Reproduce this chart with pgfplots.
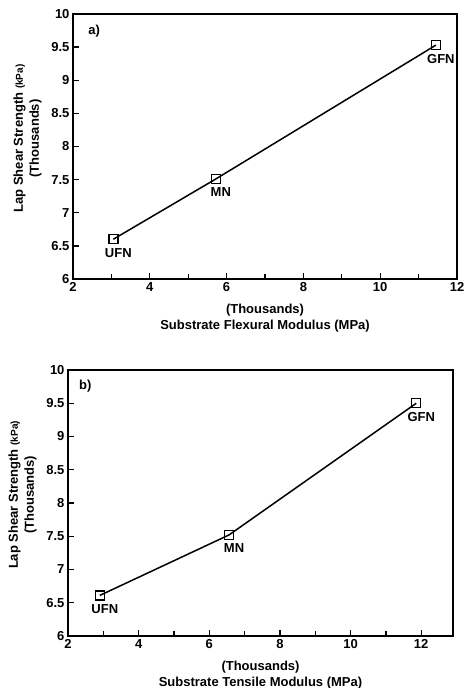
\documentclass[border=0pt]{standalone}
\usepackage{fontspec}
\setmainfont{Liberation Sans}
\usepackage{pgfplots}
\pgfplotsset{compat=1.18}

\pgfplotsset{
  lapstyle/.style={
    scale only axis,
    ymin=6, ymax=10,
    xtick={2,4,6,8,10,12},
    minor xtick={3,5,7,9,11,13},
    ytick={6,6.5,7,7.5,8,8.5,9,9.5,10},
    yticklabels={6,6.5,7,7.5,8,8.5,9,9.5,10},
    xtick pos=bottom,
    ytick pos=left,
    tick align=inside,
    major tick length=6pt,
    minor tick length=5pt,
    every tick/.style={line width=1.3pt, black},
    axis line style={line width=1.4pt},
    /pgf/number format/assume math mode=true,
    tick label style={font=\fontsize{13}{15}\selectfont\bfseries},
    label style={font=\fontsize{13}{16}\selectfont\bfseries, align=center},
    ylabel={Lap Shear Strength {\fontsize{10}{11}\selectfont(kPa)}\\(Thousands)},
    ylabel style={yshift=3pt, xshift=8pt},
    xlabel style={yshift=-5pt},
    point meta=explicit symbolic,
    nodes near coords,
    every node near coord/.append style={font=\fontsize{13}{15}\selectfont\bfseries, anchor=north, xshift=5pt, yshift=-5pt, black},
  }
}

\begin{document}
\begin{tikzpicture}[x=1pt,y=1pt]
\useasboundingbox (0,0) rectangle (466,688);

\begin{axis}[lapstyle,
  width=384pt, height=265pt,
  xmin=2, xmax=12,
  at={(73pt,409pt)}, anchor=south west,
  xlabel={(Thousands)\\Substrate Flexural Modulus (MPa)},
]
\addplot[black, line width=1.5pt, mark=square, mark size=4.5pt, mark options={line width=1.4pt, fill=white}]
  coordinates {(3.05,6.60)[UFN] (5.72,7.51)[MN] (11.45,9.53)[GFN]};
\node[font=\fontsize{13}{15}\selectfont\bfseries] at (rel axis cs:0.055,0.935) {a)};
\end{axis}

\begin{axis}[lapstyle,
  width=385pt, height=266pt,
  xmin=2, xmax=12.9,
  at={(68pt,52pt)}, anchor=south west,
  xlabel={(Thousands)\\Substrate Tensile Modulus (MPa)},
]
\addplot[black, line width=1.5pt, mark=square, mark size=4.5pt, mark options={line width=1.4pt, fill=white}]
  coordinates {(2.90,6.61)[UFN] (6.56,7.52)[MN] (11.86,9.50)[GFN]};
\node[font=\fontsize{13}{15}\selectfont\bfseries] at (rel axis cs:0.045,0.94) {b)};
\end{axis}
\end{tikzpicture}
\end{document}
